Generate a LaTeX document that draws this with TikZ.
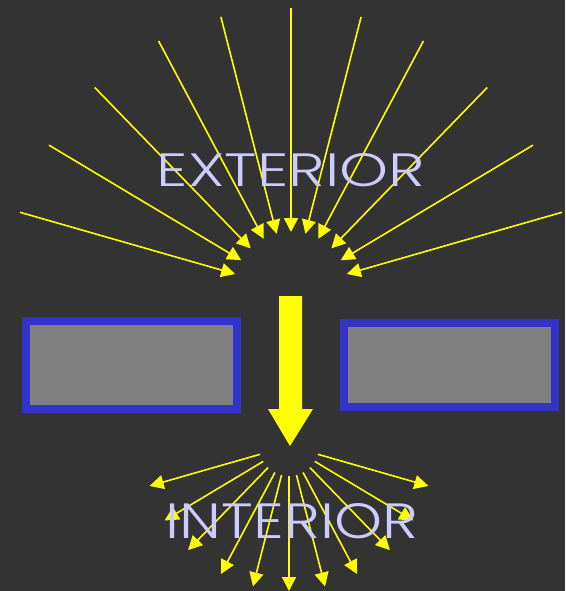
\documentclass[tikz,border=0pt]{standalone}
\usepackage{fontspec}
\usetikzlibrary{arrows.meta,calc}
\IfFontExistsTF{Poppins Light}{\newfontfamily\lblfont{Poppins Light}}{\newfontfamily\lblfont{Liberation Sans}}
\definecolor{bg}{HTML}{333333}
\definecolor{lbl}{HTML}{CCCCFF}
\definecolor{wallblue}{HTML}{3333CC}
\definecolor{wallgray}{HTML}{808080}
\definecolor{ray}{HTML}{FFFF00}
\tikzset{
  rayline/.style={draw=ray, line width=1.6pt, -{Triangle[length=14pt,width=14pt]}},
  wall/.style={draw=wallblue, fill=wallgray, line width=8pt},
  label/.style={text=lbl, font=\lblfont\fontsize{46}{46}\selectfont, inner sep=0pt, anchor=base},
}
\begin{document}
\begin{tikzpicture}[x=1pt,y=-1pt]
\fill[bg] (0,0) rectangle (565,591);
\useasboundingbox (0,0) rectangle (565,591);
% incoming rays
\coordinate (cTop) at (291,290);
\foreach \a [count=\k] in {16,30.9,45.9,62,75.6,90,104.4,118,134.1,149.1,164}{
  \coordinate (ro\k) at ($(cTop)+({282*cos(\a)},{-282*sin(\a)})$);
  \coordinate (ri\k) at ($(cTop)+({58*cos(\a)},{-58*sin(\a)})$);
  \draw[rayline] (ro\k) -- (ri\k);
}
% outgoing rays
\coordinate (cBot) at (289,446);
\foreach \a [count=\k] in {16,30.9,45.9,62,75.6,90,104.4,118,134.1,149.1,164}{
  \coordinate (bo\k) at ($(cBot)+({30*cos(\a)},{30*sin(\a)})$);
  \coordinate (bi\k) at ($(cBot)+({145*cos(\a)},{145*sin(\a)})$);
  \draw[rayline] (bo\k) -- (bi\k);
}
% walls
\draw[wall] (26,321) rectangle (237,409);
\draw[wall] (343.7,323) rectangle (555.3,407.3);
% big arrow
\fill[ray] (279,296) -- (302,296) -- (302,409) -- (313,409) -- (290,446) -- (268,409) -- (279,409) -- cycle;
% labels
\node[label] (ext) at (291,186) {\resizebox{268pt}{33pt}{EXTERIOR}};
\node[label] (int) at (292,538) {\resizebox{252pt}{35pt}{INTERIOR}};
\end{tikzpicture}
\end{document}
